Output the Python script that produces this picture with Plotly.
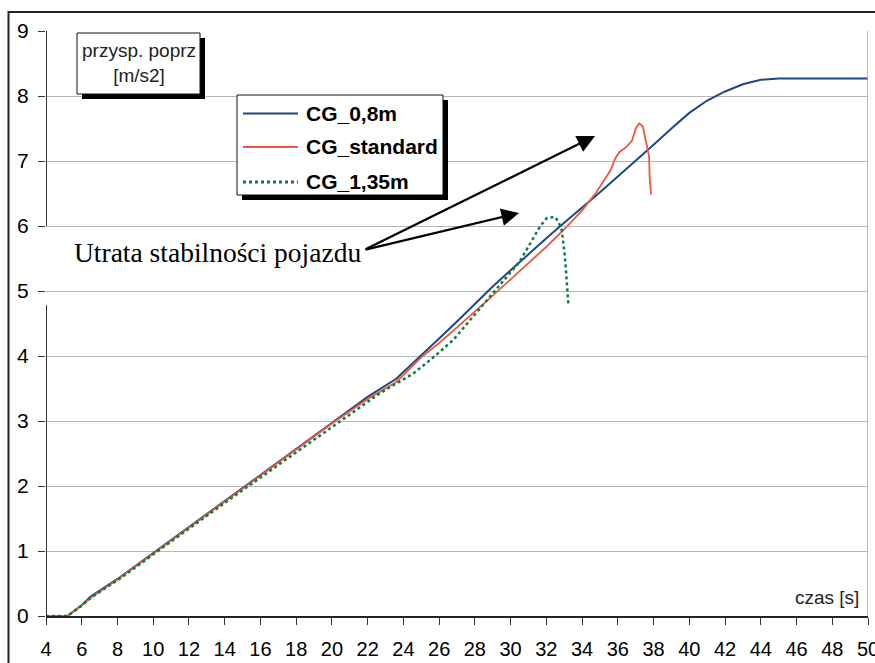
import plotly.graph_objects as go

# Lateral acceleration vs time for three centre-of-gravity heights
series_names = ["CG_0,8m", "CG_standard", "CG_1,35m"]
series_colors = ["#1c4788", "#f0563f", "#0b7d3c"]

t_cg08 = [4, 5.2, 6, 6.5, 8, 10, 12, 14, 16, 18, 20, 22, 23.6, 25, 26, 27, 28, 29, 30,
          31, 32, 33, 34, 35, 36, 37, 38, 39, 40, 41, 42, 43, 44, 45, 46, 47, 48, 49, 50]
a_cg08 = [0, 0, 0.17, 0.30, 0.57, 0.97, 1.37, 1.77, 2.17, 2.57, 2.98, 3.37, 3.65, 4.02,
          4.27, 4.53, 4.80, 5.07, 5.32, 5.57, 5.81, 6.05, 6.28, 6.52, 6.76, 7.00, 7.25,
          7.50, 7.74, 7.93, 8.07, 8.18, 8.25, 8.27, 8.27, 8.27, 8.27, 8.27, 8.27]

t_std = [4, 5.2, 6, 6.5, 8, 10, 12, 14, 16, 18, 20, 22, 23.6, 25, 26, 27, 28, 29, 30, 31,
         32, 33, 34, 34.8, 35.2, 35.6, 35.85, 36.1, 36.5, 36.8, 37.0, 37.2, 37.4, 37.5,
         37.65, 37.75, 37.78, 37.86]
a_std = [0, 0, 0.16, 0.28, 0.56, 0.96, 1.36, 1.76, 2.16, 2.56, 2.96, 3.34, 3.60, 3.98,
         4.20, 4.44, 4.68, 4.93, 5.18, 5.43, 5.68, 5.95, 6.24, 6.52, 6.70, 6.86, 7.04,
         7.14, 7.22, 7.32, 7.50, 7.58, 7.53, 7.40, 7.22, 7.07, 6.76, 6.48]

t_cg135 = [4, 5.2, 6, 6.5, 8, 10, 12, 14, 16, 18, 20, 22, 22.7, 24.55, 25.77, 26.8, 28,
           29, 30, 30.5, 31.2, 31.64, 32.02, 32.48, 32.67, 32.86, 33.04, 33.23]
a_cg135 = [0, 0, 0.16, 0.28, 0.55, 0.95, 1.34, 1.74, 2.13, 2.52, 2.91, 3.30, 3.43, 3.73,
           4.00, 4.25, 4.64, 4.96, 5.30, 5.45, 5.78, 5.99, 6.12, 6.14, 6.07, 5.94, 5.53,
           4.81]

x_ticks = list(range(4, 51, 2))
y_ticks = list(range(0, 10))

W, H = 875, 663
L, R, T, B = 46, 7, 31, 47
PW, PH = W - L - R, H - T - B


def px(x):
    return (x - L) / PW


def py(y):
    return (H - B - y) / PH


fig = go.Figure()
fig.add_trace(go.Scatter(x=t_cg08, y=a_cg08, mode="lines", name=series_names[0],
                         line=dict(color=series_colors[0], width=2)))
fig.add_trace(go.Scatter(x=t_std, y=a_std, mode="lines", name=series_names[1],
                         line=dict(color=series_colors[1], width=1.8)))
fig.add_trace(go.Scatter(x=t_cg135, y=a_cg135, mode="lines", name=series_names[2],
                         line=dict(color=series_colors[2], width=2.5, dash="dot")))

shapes = []
# outer chart frame
shapes.append(dict(type="rect", xref="paper", yref="paper", x0=px(8.5), x1=1.06,
                   y0=-0.15, y1=py(12), line=dict(color="#222", width=2),
                   fillcolor="rgba(0,0,0,0)", layer="below"))
# right border of plot area
shapes.append(dict(type="line", xref="x", yref="y", x0=50, x1=50, y0=0, y1=9,
                   line=dict(color="#a6a6a6", width=1.5)))
# value axis line (interrupted behind the text box)
shapes.append(dict(type="line", xref="x", yref="y", x0=4, x1=4, y0=0, y1=4.78,
                   line=dict(color="#333", width=2)))
shapes.append(dict(type="line", xref="x", yref="y", x0=4, x1=4, y0=6.0, y1=9,
                   line=dict(color="#333", width=2)))


def boxed(x0, y0, x1, y1, off=5):
    shapes.append(dict(type="rect", xref="paper", yref="paper",
                       x0=px(x0 + off), x1=px(x1 + off), y0=py(y1 + off), y1=py(y0 + off),
                       fillcolor="#000", line=dict(width=0)))
    shapes.append(dict(type="rect", xref="paper", yref="paper",
                       x0=px(x0), x1=px(x1), y0=py(y1), y1=py(y0),
                       fillcolor="#fff", line=dict(color="#111", width=1)))


# unit label box
boxed(77, 33, 200, 94)
# legend box
boxed(237, 95, 443, 195)

annotations = []
annotations.append(dict(xref="paper", yref="paper", x=px(138.5), y=py(63),
                        text="przysp. poprz<br>[m/s2]", showarrow=False,
                        font=dict(family="Liberation Sans, Arial", size=19, color="#222"),
                        xanchor="center", yanchor="middle", align="center"))

legend_rows = [113.5, 147, 182]
dashes = ["solid", "solid", "dot"]
widths = [2, 2, 3]
for name, color, yrow, dash, w in zip(series_names, series_colors, legend_rows, dashes, widths):
    shapes.append(dict(type="line", xref="paper", yref="paper", x0=px(243), x1=px(298),
                       y0=py(yrow), y1=py(yrow), line=dict(color=color, width=w, dash=dash)))
    annotations.append(dict(xref="paper", yref="paper", x=px(304), y=py(yrow),
                            text="<b>" + name + "</b>", showarrow=False,
                            xanchor="left", yanchor="middle",
                            font=dict(family="Liberation Sans, Arial", size=21, color="#000")))

annotations.append(dict(xref="paper", yref="paper", x=px(861), y=py(597),
                        text="czas [s]", showarrow=False, xanchor="right", yanchor="middle",
                        font=dict(family="Liberation Sans, Arial", size=19, color="#222")))

annotations.append(dict(xref="paper", yref="paper", x=px(72), y=py(252),
                        text="Utrata stabilności pojazdu", showarrow=False,
                        xanchor="left", yanchor="middle",
                        font=dict(family="Liberation Serif, Times New Roman", size=27.5,
                                  color="#000")))

# arrows pointing at the loss-of-stability peaks
for hx, hy, tx, ty in [(595, 136, 364, 250), (519, 213, 364, 250)]:
    annotations.append(dict(xref="paper", yref="paper", x=px(hx), y=py(hy),
                            ax=tx - hx, ay=ty - hy, axref="pixel", ayref="pixel",
                            text="", showarrow=True, arrowhead=2, arrowsize=1.6,
                            arrowwidth=2.2, arrowcolor="#000"))

fig.update_layout(
    width=W, height=H,
    margin=dict(l=L, r=R, t=T, b=B, pad=0, autoexpand=False),
    paper_bgcolor="#fff", plot_bgcolor="#fff",
    showlegend=False,
    shapes=shapes, annotations=annotations,
    xaxis=dict(range=[4, 50], tickvals=x_ticks, ticktext=[str(v) for v in x_ticks],
               ticks="outside", ticklen=7, tickwidth=1.2, tickcolor="#333",
               showgrid=False, zeroline=False, showline=True, linecolor="#222",
               linewidth=2, ticklabelstandoff=7, ticklabeloverflow="allow",
               tickfont=dict(family="Liberation Sans, Arial", size=20, color="#000")),
    yaxis=dict(range=[0, 9], tickvals=y_ticks, ticktext=[str(v) for v in y_ticks],
               ticks="outside", ticklen=7, tickwidth=1.2, tickcolor="#333",
               showgrid=True, gridcolor="#b8b8b8", gridwidth=1, zeroline=False,
               showline=False, ticklabelstandoff=5,
               tickfont=dict(family="Liberation Sans, Arial", size=21, color="#000")),
)

fig.write_html("out.html")
